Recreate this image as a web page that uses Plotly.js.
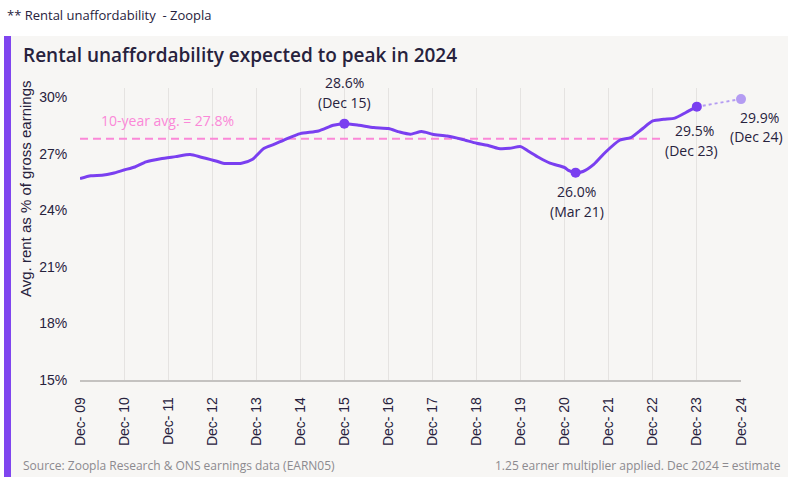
<!DOCTYPE html>
<html>
<head>
<meta charset="utf-8">
<script src="https://cdn.plot.ly/plotly-3.0.1.min.js"></script>
<style>
html,body{margin:0;padding:0;background:#fff;}
#chart{width:800px;height:477px;}
</style>
</head>
<body>
<div id="chart"></div>
<script>
// ---- data ----
const dates = ["2009-12-01","2010-03-01","2010-06-01","2010-09-01","2010-12-01","2011-03-01","2011-06-01","2011-10-01","2012-02-01","2012-06-01","2012-09-01","2013-01-01","2013-03-01","2013-08-01","2013-11-01","2014-02-01","2014-05-01","2014-08-01","2014-12-01","2015-05-01","2015-09-01","2015-12-01","2016-04-01","2016-08-01","2016-12-01","2017-03-01","2017-06-01","2017-09-01","2017-12-01","2018-04-01","2018-08-01","2018-12-01","2019-03-01","2019-06-01","2019-09-01","2019-12-01","2020-02-01","2020-05-01","2020-08-01","2020-12-01","2021-01-01","2021-03-01","2021-05-01","2021-08-01","2021-11-01","2022-03-01","2022-06-01","2022-09-01","2022-12-01","2023-03-01","2023-06-01","2023-09-01","2023-12-01"];
const values = [25.68,25.83,25.86,25.97,26.14,26.30,26.57,26.74,26.85,26.96,26.82,26.62,26.50,26.50,26.71,27.28,27.51,27.77,28.07,28.21,28.51,28.6,28.51,28.39,28.34,28.16,28.04,28.18,28.04,27.94,27.77,27.56,27.45,27.28,27.29,27.38,27.15,26.80,26.50,26.27,26.12,26.0,26.06,26.45,27.07,27.72,27.86,28.30,28.74,28.83,28.89,29.19,29.5];
const estDates = ["2023-12-01","2024-12-01"];
const estValues = [29.5,29.9];
const avgValue = 27.8;
const avgRange = ["2009-12-01","2023-03-01"];
const highlightDates = ["2015-12-01","2021-03-01","2023-12-01"];
const highlightValues = [28.6,26.0,29.5];
const highlightLabels = [["28.6%","(Dec 15)"],["26.0%","(Mar 21)"],["29.5%","(Dec 23)"]];
const estLabel = ["29.9%","(Dec 24)"];
const tickVals = ["2009-12-01","2010-12-01","2011-12-01","2012-12-01","2013-12-01","2014-12-01","2015-12-01","2016-12-01","2017-12-01","2018-12-01","2019-12-01","2020-12-01","2021-12-01","2022-12-01","2023-12-01","2024-12-01"];
const tickText = ["Dec- 09","Dec- 10","Dec- 11","Dec- 12","Dec- 13","Dec- 14","Dec- 15","Dec- 16","Dec- 17","Dec- 18","Dec- 19","Dec- 20","Dec- 21","Dec- 22","Dec- 23","Dec- 24"];
const yTicks = [15,18,21,24,27,30];
const yTickText = ["15%","18%","21%","24%","27%","30%"];

// ---- style ----
const DARK = "#27223d";
const PURPLE = "#7a3ff0";
const LIGHTPURPLE = "#b49cf2";
const PINK = "#fb88d8";
const PANEL = "#f7f6f4";
const TICKFONT = "Liberation Sans, Arial, sans-serif";
const TFONT = "Open Sans, sans-serif";

const traces = [
  {x: avgRange, y: [avgValue, avgValue], mode: "lines", line: {color: PINK, width: 2, dash: "8px,5px"}, hoverinfo: "skip"},
  {x: dates, y: values, mode: "lines", line: {color: PURPLE, width: 3, shape: "spline", smoothing: 0.6}},
  {x: estDates, y: estValues, mode: "lines", line: {color: LIGHTPURPLE, width: 2, dash: "dot"}, cliponaxis: false},
  {x: [estDates[1]], y: [estValues[1]], mode: "markers", marker: {color: LIGHTPURPLE, size: 10}, cliponaxis: false},
  {x: highlightDates, y: highlightValues, mode: "markers", marker: {color: PURPLE, size: 10}, cliponaxis: false}
];

const ann = [];
function lab(x, y, text, xs, ys, size) {
  ann.push({x: x, y: y, xref: "x", yref: "y", text: text, showarrow: false, xshift: xs, yshift: ys,
    font: {family: TFONT, size: size || 14, color: DARK}, xanchor: "center", yanchor: "middle"});
}
lab(highlightDates[0], highlightValues[0], highlightLabels[0][0], 0, 41);
lab(highlightDates[0], highlightValues[0], highlightLabels[0][1], 0, 21);
lab(highlightDates[1], highlightValues[1], highlightLabels[1][0], 1, -19);
lab(highlightDates[1], highlightValues[1], highlightLabels[1][1], 1, -39);
lab(highlightDates[2], highlightValues[2], highlightLabels[2][0], -2, -24);
lab(highlightDates[2], highlightValues[2], highlightLabels[2][1], -5, -44);
lab(estDates[1], estValues[1], estLabel[0], 18, -18);
lab(estDates[1], estValues[1], estLabel[1], 15, -37);

const L = 80, R = 59, T = 88, B = 97;
const W = 800 - L - R, H = 477 - T - B;
function paperX(p){return (p - L)/W;}
function paperY(p){return (477 - B - p)/H;}

ann.push({x: paperX(99), y: paperY(120), xref: "paper", yref: "paper", text: "10-year avg. = " + avgValue.toFixed(1) + "%", showarrow: false,
  xanchor: "left", yanchor: "middle", font: {family: TFONT, size: 14, color: PINK}});
ann.push({x: paperX(5), y: paperY(15), xref: "paper", yref: "paper", text: "** Rental unaffordability  - Zoopla", showarrow: false,
  xanchor: "left", yanchor: "middle", font: {family: TFONT, size: 13, color: DARK}});
ann.push({x: paperX(21), y: paperY(55), xref: "paper", yref: "paper", text: "Rental unaffordability expected to peak in 2024", showarrow: false,
  xanchor: "left", yanchor: "middle", font: {family: TFONT, size: 19, color: DARK, weight: 600}});
ann.push({x: paperX(25), y: paperY(189), xref: "paper", yref: "paper", text: "Avg. rent as % of gross earnings", showarrow: false, textangle: -90,
  xanchor: "center", yanchor: "middle", font: {family: TICKFONT, size: 15, color: DARK}});
ann.push({x: paperX(21), y: paperY(465), xref: "paper", yref: "paper", text: "Source: Zoopla Research & ONS earnings data (EARN05)", showarrow: false,
  xanchor: "left", yanchor: "middle", font: {family: TFONT, size: 12, color: "#8c8a8f"}});
ann.push({x: paperX(783), y: paperY(465), xref: "paper", yref: "paper", text: "1.25 earner multiplier applied. Dec 2024 = estimate", showarrow: false,
  xanchor: "right", yanchor: "middle", font: {family: TFONT, size: 12, color: "#8c8a8f"}});

const shapes = [
  {type: "rect", xref: "paper", yref: "paper", x0: paperX(4), x1: paperX(788), y0: paperY(36), y1: paperY(477), fillcolor: PANEL, line: {width: 0}, layer: "below"},
  {type: "rect", xref: "paper", yref: "paper", x0: paperX(4), x1: paperX(11), y0: paperY(36), y1: paperY(477), fillcolor: "#7f45ef", line: {width: 0}, layer: "below"}
];

const layout = {
  width: 800, height: 477,
  margin: {l: L, r: R, t: T, b: B, pad: 0},
  paper_bgcolor: "#ffffff",
  plot_bgcolor: "rgba(0,0,0,0)",
  showlegend: false,
  xaxis: {
    type: "date", range: ["2009-12-01", "2024-12-01"],
    tickmode: "array", tickvals: tickVals, ticktext: tickText, tickangle: -90,
    showgrid: true, gridcolor: "#e5e3e1", gridwidth: 1,
    showline: true, linecolor: "#c4c2c0", linewidth: 1.5,
    ticks: "outside", ticklen: 10, tickcolor: "rgba(0,0,0,0)",
    tickfont: {family: TICKFONT, size: 14, color: DARK},
    zeroline: false, fixedrange: true
  },
  yaxis: {
    range: [15, 30.49], tickmode: "array", tickvals: yTicks, ticktext: yTickText,
    showgrid: false, zeroline: false, showline: false,
    ticks: "outside", ticklen: 9, tickcolor: "rgba(0,0,0,0)",
    tickfont: {family: TICKFONT, size: 14, color: DARK}, fixedrange: true
  },
  annotations: ann,
  shapes: shapes
};

Plotly.newPlot("chart", traces, layout, {displayModeBar: false, staticPlot: true});
</script>
</body>
</html>
